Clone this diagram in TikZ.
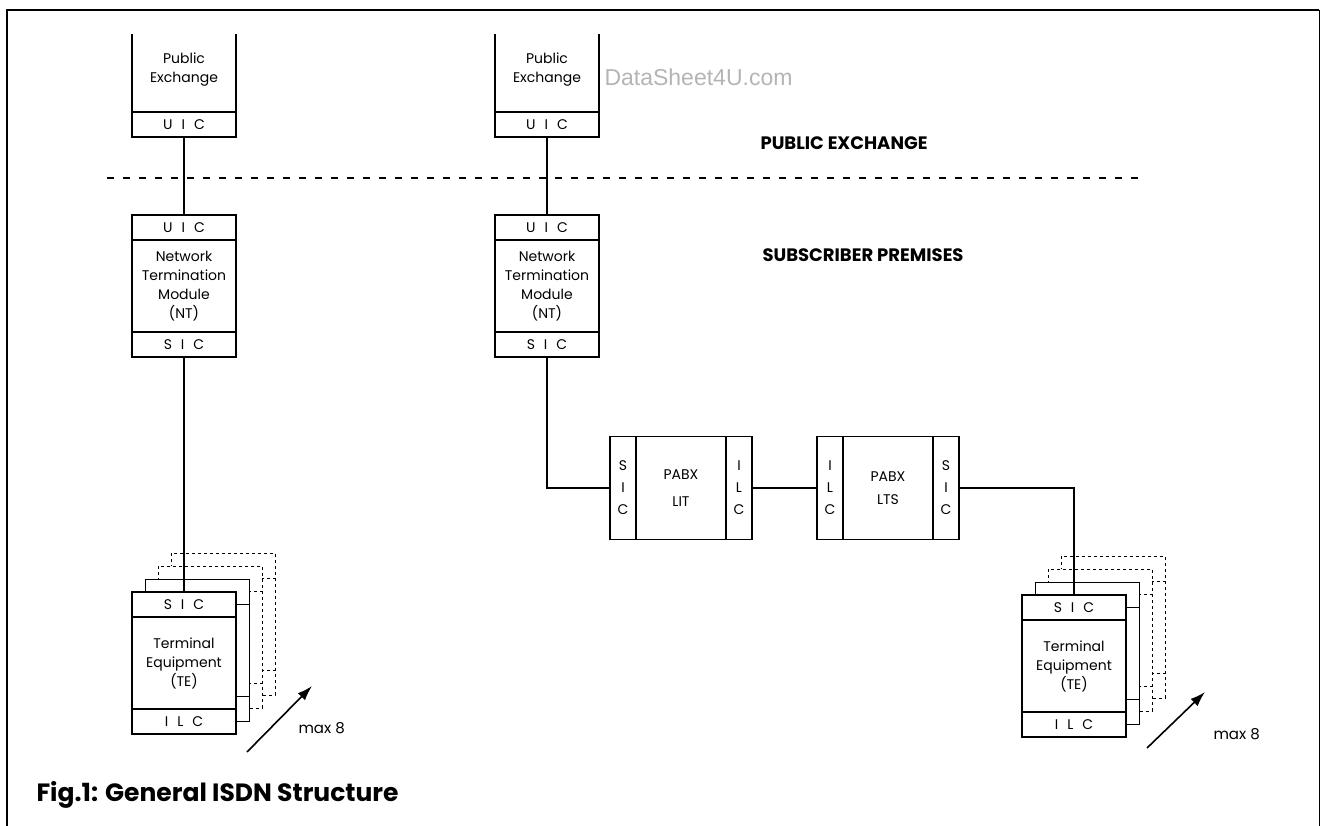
\documentclass[tikz,border=0pt]{standalone}
\usepackage{fontspec}
\setmainfont{Poppins}
\newfontfamily\markfont{Liberation Sans}
\usetikzlibrary{arrows.meta,positioning,calc,backgrounds}
\definecolor{Mark}{HTML}{B4B4B4}

\begin{document}
\begin{tikzpicture}[
  x=1pt, y=-1pt,
  unit/.style={
    draw,
    fill=white,
    line width=1.1pt,
    minimum width=104pt,
    inner sep=0pt,
    outer sep=0pt,
    align=center,
    font=\fontsize{14}{19}\selectfont
  },
  bodybox/.style={unit, minimum height=92pt},
  strip/.style={unit, minimum height=25pt},
  col/.style={unit, minimum width=26pt, minimum height=103pt, font=\fontsize{14}{22}\selectfont},
  pabx/.style={unit, minimum width=90pt, minimum height=103pt},
  wire/.style={line width=1.2pt},
  zone/.style={font=\fontsize{18}{20}\selectfont\bfseries},
  divide/.style={dash pattern=on 7pt off 9pt, line width=1.3pt},
  maxarrow/.style={-{Latex[length=15pt,width=10pt]}, line width=1.6pt}
]
\useasboundingbox (0,0) rectangle (1322,826);

% frame
\draw[line width=2.5pt] (7,826) -- (7,10) -- (1319,10);
\draw[line width=1pt] (1319,10) -- (1319,826);

% public exchanges
\node[unit, draw=none, minimum height=78pt, text depth=10pt] (pe1) at (184,73) {Public\\Exchange};
\node[strip, below=0pt of pe1] (pu1) {U\hspace{9pt}I\hspace{9pt}C};
\draw[line width=1.1pt] (pe1.north west) -- (pe1.south west) (pe1.north east) -- (pe1.south east);

\node[unit, draw=none, minimum height=78pt, text depth=10pt] (pe2) at (547,73) {Public\\Exchange};
\node[strip, below=0pt of pe2] (pu2) {U\hspace{9pt}I\hspace{9pt}C};
\draw[line width=1.1pt] (pe2.north west) -- (pe2.south west) (pe2.north east) -- (pe2.south east);

\node[zone, anchor=west] (pubzone) at (757,143) {PUBLIC EXCHANGE};
\node[zone, anchor=west] (subzone) at (759,255) {SUBSCRIBER PREMISES};

\coordinate (dl) at (107,178);
\coordinate (dr) at (1145,178);
\draw[divide] (dl) -- (dr);

% network termination modules
\node[bodybox] (nt1) at (184,286) {Network\\Termination\\Module\\(NT)};
\node[strip, above=0pt of nt1] (nu1) {U\hspace{9pt}I\hspace{9pt}C};
\node[strip, below=0pt of nt1] (ns1) {S\hspace{9pt}I\hspace{9pt}C};

\node[bodybox] (nt2) at (547,286) {Network\\Termination\\Module\\(NT)};
\node[strip, above=0pt of nt2] (nu2) {U\hspace{9pt}I\hspace{9pt}C};
\node[strip, below=0pt of nt2] (ns2) {S\hspace{9pt}I\hspace{9pt}C};

% pabx
\node[pabx] (lit) at (681,488) {PABX\\[8pt]LIT};
\node[col, left=0pt of lit] (lits) {S\\I\\C};
\node[col, right=0pt of lit] (liti) {I\\L\\C};

\node[pabx] (lts) at (888,488) {PABX\\[4pt]LTS};
\node[col, left=0pt of lts] (ltsi) {I\\L\\C};
\node[col, right=0pt of lts] (ltss) {S\\I\\C};

% terminal equipment
\node[bodybox] (te1) at (184,663) {Terminal\\Equipment\\(TE)};
\node[strip, above=0pt of te1] (ts1) {S\hspace{9pt}I\hspace{9pt}C};
\node[strip, below=0pt of te1] (ti1) {I\hspace{9pt}L\hspace{9pt}C};

\node[bodybox] (te2) at (1074,666) {Terminal\\Equipment\\(TE)};
\node[strip, above=0pt of te2] (ts2) {S\hspace{9pt}I\hspace{9pt}C};
\node[strip, below=0pt of te2] (ti2) {I\hspace{9pt}L\hspace{9pt}C};

% up to 8 terminals behind
\begin{scope}[on background layer]
\foreach \t in {1,2}
  \foreach \k/\ln in {3/dashed,2/dashed,1/solid} {
    \draw[\ln, fill=white, line width=1pt] ($(ts\t.north west)+(13*\k,-13*\k)$) rectangle ($(ti\t.south east)+(13*\k,-13*\k)$);
    \draw[\ln, line width=1pt] ($(ts\t.south west)+(13*\k,-13*\k)$) -- ($(ts\t.south east)+(13*\k,-13*\k)$);
    \draw[\ln, line width=1pt] ($(ti\t.north west)+(13*\k,-13*\k)$) -- ($(ti\t.north east)+(13*\k,-13*\k)$);
  }
\end{scope}

\coordinate (mt1) at (247,752);
\coordinate (mh1) at (312,686);
\draw[maxarrow] (mt1) -- (mh1);
\node[font=\fontsize{15}{17}\selectfont, anchor=west] (max1) at (295,728) {max 8};

\coordinate (mt2) at (1147,748);
\coordinate (mh2) at (1205,692);
\draw[maxarrow] (mt2) -- (mh2);
\node[font=\fontsize{15}{17}\selectfont, anchor=west] (max2) at (1210,734) {max 8};

% connections
\draw[wire] (pu1) -- (nu1);
\draw[wire] (ns1) -- (ts1);
\draw[wire] (pu2) -- (nu2);
\draw[wire] (ns2) |- (lits);
\draw[wire] (liti) -- (ltsi);
\draw[wire] (ltss) -| (ts2);

\node[font=\fontsize{25}{28}\selectfont\bfseries, anchor=west] (title) at (33,795) {Fig.1: General ISDN Structure};

\node[font=\markfont\fontsize{23}{26}\selectfont, text=Mark, anchor=west] (mark) at (601,77) {DataSheet4U.com};
\end{tikzpicture}
\end{document}
